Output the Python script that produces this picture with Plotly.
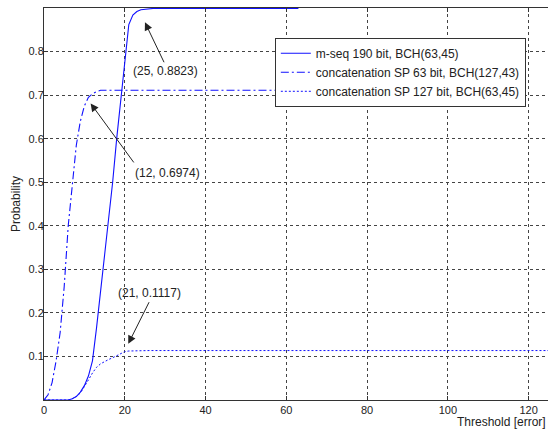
import plotly.graph_objects as go

# ---- data ----
mseq_x = list(range(0, 64))
mseq_y = [0, 0, 0, 0, 0, 0, 0, 0.003, 0.008, 0.018, 0.033, 0.055, 0.09, 0.165,
          0.25, 0.33, 0.41, 0.50, 0.60, 0.69, 0.785, 0.862, 0.884, 0.892,
          0.896, 0.8975, 0.8985, 0.899] + [0.899] * 36

sp63_x = list(range(0, 91))
sp63_y = [0, 0.012, 0.04, 0.09, 0.155, 0.26, 0.40, 0.49, 0.585, 0.64, 0.675,
          0.695, 0.703, 0.708, 0.711] + [0.711] * 76

sp127_x = list(range(0, 128))
sp127_y = [0, 0, 0, 0, 0, 0, 0, 0.003, 0.008, 0.016, 0.03, 0.046, 0.062, 0.075,
           0.083, 0.089, 0.093, 0.097, 0.102, 0.107, 0.111, 0.1125, 0.113] + [0.1135] * 105

names = ["m-seq 190 bit, BCH(63,45)",
         "concatenation SP 63 bit, BCH(127,43)",
         "concatenation SP 127 bit, BCH(63,45)"]

x_ticks = [0, 20, 40, 60, 80, 100, 120]
y_ticks = [0.1, 0.2, 0.3, 0.4, 0.5, 0.6, 0.7, 0.8]

# annotation labels: (label, tip x, tip y, tail x, tail y, text x, text y)
notes = [
    ("(25, 0.8823)", 25.0, 0.867, 29.9, 0.772, 30.0, 0.755),
    ("(12, 0.6974)", 11.55, 0.681, 22.5, 0.542, 30.7, 0.522),
    ("(21, 0.1117)", 20.87, 0.129, 26.2, 0.228, 26.2, 0.246),
]

FONT = "Liberation Sans, Arial, sans-serif"
TXT = "#222"

fig = go.Figure()
fig.add_trace(go.Scatter(x=mseq_x, y=mseq_y, mode="lines", name=names[0],
                         line=dict(color="#1010ff", width=1.1)))
fig.add_trace(go.Scatter(x=sp63_x, y=sp63_y, mode="lines", name=names[1],
                         line=dict(color="#1010ff", width=1.1, dash="8px,3px,2px,3px")))
fig.add_trace(go.Scatter(x=sp127_x, y=sp127_y, mode="lines", name=names[2],
                         line=dict(color="#1010ff", width=1, dash="2px,2px")))

for label, tx, ty, ax, ay, lx, ly in notes:
    fig.add_annotation(x=tx, y=ty, ax=ax, ay=ay, axref="x", ayref="y",
                       xref="x", yref="y", text="", showarrow=True,
                       arrowhead=2, arrowsize=1.6, arrowwidth=1,
                       arrowcolor="#222", standoff=0, startstandoff=0)
    fig.add_annotation(x=lx, y=ly, xref="x", yref="y", text=label,
                       showarrow=False, font=dict(family=FONT, size=12, color=TXT))

fig.add_annotation(x=1.0, y=-0.057, xref="paper", yref="paper", text="Threshold [error]",
                   showarrow=False, xanchor="right", yanchor="middle",
                   font=dict(family=FONT, size=12, color=TXT))
fig.add_annotation(x=-0.0556, y=0.5, xref="paper", yref="paper", text="Probability",
                   showarrow=False, textangle=-90, xanchor="center", yanchor="middle",
                   font=dict(family=FONT, size=12, color=TXT))

fig.update_layout(
    width=548, height=431,
    margin=dict(l=44, r=0, t=8, b=31),
    paper_bgcolor="white", plot_bgcolor="white",
    font=dict(family=FONT, size=12, color=TXT),
    showlegend=True,
    legend=dict(x=0.458, y=0.924, xanchor="left", yanchor="top",
                bgcolor="white", bordercolor="#333", borderwidth=1,
                font=dict(family=FONT, size=12, color=TXT),
                tracegroupgap=0),
    xaxis=dict(range=[0, 124.8], tickvals=x_ticks, ticks="inside", ticklen=4,
               tickcolor="#333", showline=True, linecolor="#333", linewidth=1,
               mirror="ticks", showgrid=True, gridcolor="#444", griddash="dot",
               gridwidth=1, zeroline=False, automargin=False,
               tickfont=dict(family=FONT, size=11, color=TXT)),
    yaxis=dict(range=[0, 0.9], tickvals=y_ticks, ticktext=[f"{v:.1f}" for v in y_ticks],
               ticks="inside", ticklen=4, tickcolor="#333", ticklabelstandoff=-3,
               showline=True, linecolor="#333", linewidth=1, mirror=False,
               showgrid=True, gridcolor="#444", griddash="dot", gridwidth=1,
               zeroline=False, automargin=False,
               tickfont=dict(family=FONT, size=11, color=TXT)),
)

fig.write_html("out.html", config={"displayModeBar": False},
               post_script="document.body.style.margin='0';document.body.style.overflow='hidden';")
